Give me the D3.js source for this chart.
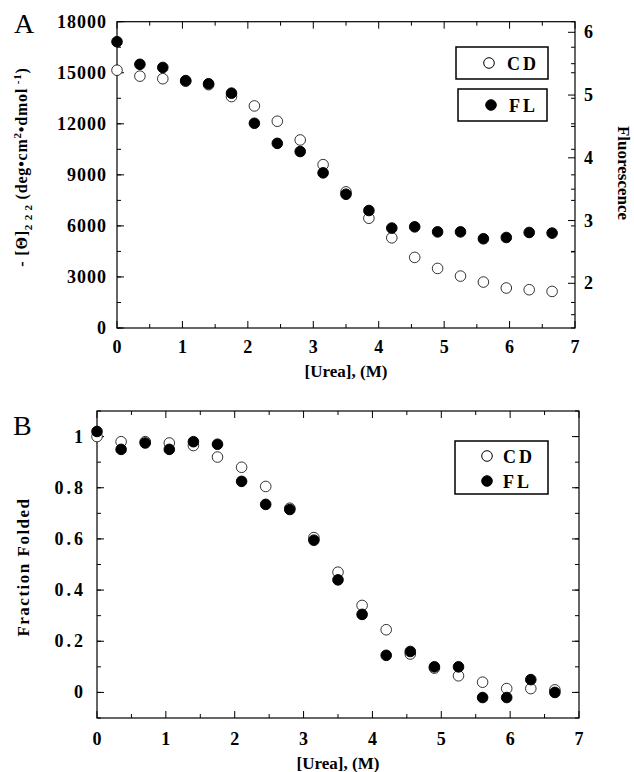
<!DOCTYPE html>
<html><head><meta charset="utf-8">
<script src="https://cdn.jsdelivr.net/npm/d3@7"></script>
<style>body{margin:0;background:#fff}text{font-family:"Liberation Serif","DejaVu Serif",serif;font-weight:bold}</style>
</head><body><svg id="c" width="634" height="772"></svg>
<script>
const urea=[0,0.35,0.7,1.05,1.4,1.75,2.1,2.45,2.8,3.15,3.5,3.85,4.2,4.55,4.9,5.25,5.6,5.95,6.3,6.65];
const cdTheta=[15150,14800,14650,14500,14300,13600,13050,12150,11050,9600,8000,6450,5300,4150,3500,3050,2700,2350,2250,2150];
const flFluor=[5.85,5.49,5.44,5.23,5.18,5.03,4.55,4.23,4.10,3.76,3.42,3.16,2.88,2.90,2.82,2.82,2.71,2.73,2.81,2.80];
const cdFrac=[1.0,0.98,0.98,0.975,0.965,0.92,0.88,0.805,0.72,0.605,0.47,0.34,0.245,0.15,0.095,0.065,0.04,0.015,0.015,0.01];
const flFrac=[1.02,0.95,0.975,0.95,0.98,0.97,0.825,0.735,0.715,0.595,0.44,0.305,0.145,0.16,0.10,0.10,-0.02,-0.02,0.05,0.0];
const xTicks=[0,1,2,3,4,5,6,7];
const thetaTicks=[0,3000,6000,9000,12000,15000,18000];
const fluorTicks=[2,3,4,5,6];
const fracTicks=[0,0.2,0.4,0.6,0.8,1];

const svg=d3.select("#c");
function frame(g,x,y){
  const [x0,x1]=x.range(),[y0,y1]=y.range();
  g.append("rect").attr("x",x0).attr("y",y1).attr("width",x1-x0).attr("height",y0-y1)
   .attr("fill","none").attr("stroke","#000").attr("stroke-width",1.2);
}
function xAxis(g,x,y,labY){
  const [y0,y1]=y.range();
  d3.range(0,7.01,0.5).forEach(v=>{
    const L=Number.isInteger(v)?7:4;
    g.append("line").attr("x1",x(v)).attr("x2",x(v)).attr("y1",y0).attr("y2",y0-L).attr("stroke","#000");
    g.append("line").attr("x1",x(v)).attr("x2",x(v)).attr("y1",y1).attr("y2",y1+L).attr("stroke","#000");
  });
  xTicks.forEach(v=>g.append("text").attr("x",x(v)).attr("y",labY).attr("text-anchor","middle").attr("font-size",18).text(v));
}
function yTicksSide(g,y,x,pos,major,minor,len){
  const X=x(pos),dir=pos===x.domain()[0]?1:-1;
  minor.forEach(v=>g.append("line").attr("x1",X).attr("x2",X+dir*4).attr("y1",y(v)).attr("y2",y(v)).attr("stroke","#000"));
  major.forEach(v=>g.append("line").attr("x1",X).attr("x2",X+dir*len).attr("y1",y(v)).attr("y2",y(v)).attr("stroke","#000"));
}
function dots(g,x,y,xs,ys,filled){
  g.selectAll(null).data(xs.map((d,i)=>[d,ys[i]])).join("circle")
   .attr("cx",d=>x(d[0])).attr("cy",d=>y(d[1])).attr("r",5.3)
   .attr("fill",filled?"#000":"#fff").attr("stroke","#000").attr("stroke-width",filled?1:0.8);
}
// Panel A
const gA=svg.append("g");
const xA=d3.scaleLinear().domain([0,7]).range([117,575]);
const yA=d3.scaleLinear().domain([0,18000]).range([328,21.7]);
const yF=d3.scaleLinear().domain([2,6]).range([283.3,32.3]);
frame(gA,xA,yA);
xAxis(gA,xA,yA,353);
yTicksSide(gA,yA,xA,0,thetaTicks,d3.range(0,18001,1500),7);
yTicksSide(gA,yA,xA,7,[],d3.range(0,18001,1500),7);
gA.selectAll(".rt").data(d3.range(1.5,6.01,0.5)).join("line").attr("x1",575).attr("x2",d=>Number.isInteger(d)?568:571)
  .attr("y1",d=>yF(d)).attr("y2",d=>yF(d)).attr("stroke","#000");
thetaTicks.forEach(v=>gA.append("text").attr("x",107).attr("y",yA(v)+6).attr("text-anchor","end").attr("font-size",18).attr("letter-spacing",1).text(v));
fluorTicks.forEach(v=>gA.append("text").attr("x",584).attr("y",yF(v)+6).attr("font-size",18).text(v));
dots(gA,xA,yA,urea,cdTheta,false);
dots(gA,xA,yF,urea,flFluor,true);
gA.append("text").attr("x",14).attr("y",33).attr("font-size",28).style("font-weight","normal").text("A");
gA.append("text").attr("x",xA(3.5)).attr("y",377).attr("text-anchor","middle").attr("font-size",17).text("[Urea],  (M)");
const yl=gA.append("text").attr("transform","translate(27,167) rotate(-90)").attr("text-anchor","middle").attr("font-size",16).attr("letter-spacing",0.8);
yl.append("tspan").text("- [Θ]");
yl.append("tspan").attr("font-size",11).attr("dy",5).text("2 2 2");
yl.append("tspan").attr("dy",-5).text("   (deg•cm");
yl.append("tspan").attr("font-size",11).attr("dy",-6).text("2");
yl.append("tspan").attr("dy",6).text("•dmol");
yl.append("tspan").attr("font-size",11).attr("dy",-6).text(" -1");
yl.append("tspan").attr("dy",6).text(")");
gA.append("text").attr("transform","translate(618,173) rotate(90)").attr("text-anchor","middle").attr("font-size",17).text("Fluorescence");
// legend A
[[456,47,92,32,"CD",false],[458,89,89,32,"FL",true]].forEach(([x,y,w,h,t,f])=>{
  gA.append("rect").attr("x",x).attr("y",y).attr("width",w).attr("height",h).attr("fill","#fff").attr("stroke","#000").attr("stroke-width",1.5);
  gA.append("circle").attr("cx",x+33).attr("cy",y+h/2).attr("r",5.3).attr("fill",f?"#000":"#fff").attr("stroke","#000");
  gA.append("text").attr("x",x+51).attr("y",y+h/2+7).attr("font-size",18).attr("letter-spacing",3).text(t);
});
// Panel B
const gB=svg.append("g");
const xB=d3.scaleLinear().domain([0,7]).range([97,579]);
const yB=d3.scaleLinear().domain([-0.1,1.1]).range([718,411]);
frame(gB,xB,yB);
xAxis(gB,xB,yB,745);
yTicksSide(gB,yB,xB,0,fracTicks,d3.range(-0.1,1.101,0.1),7);
yTicksSide(gB,yB,xB,7,fracTicks,d3.range(-0.1,1.101,0.1),7);
fracTicks.forEach(v=>gB.append("text").attr("x",86).attr("y",yB(v)+6).attr("text-anchor","end").attr("font-size",18).attr("letter-spacing",3).text(v===0||v===1?v:v.toFixed(1)));
dots(gB,xB,yB,urea,cdFrac,false);
dots(gB,xB,yB,urea,flFrac,true);
gB.append("text").attr("x",13).attr("y",435).attr("font-size",28).style("font-weight","normal").text("B");
gB.append("text").attr("x",xB(3.5)).attr("y",769).attr("text-anchor","middle").attr("font-size",17).text("[Urea],  (M)");
gB.append("text").attr("transform","translate(29,567) rotate(-90)").attr("text-anchor","middle").attr("font-size",17).attr("letter-spacing",1.5).text("Fraction  Folded");
gB.append("rect").attr("x",455).attr("y",441).attr("width",93).attr("height",53).attr("fill","#fff").attr("stroke","#000").attr("stroke-width",1.5);
[["CD",false,454],["FL",true,479]].forEach(([t,f,cy])=>{
  gB.append("circle").attr("cx",487).attr("cy",cy+2).attr("r",5.3).attr("fill",f?"#000":"#fff").attr("stroke","#000");
  gB.append("text").attr("x",503).attr("y",cy+9).attr("font-size",18).attr("letter-spacing",3).text(t);
});
</script></body></html>
